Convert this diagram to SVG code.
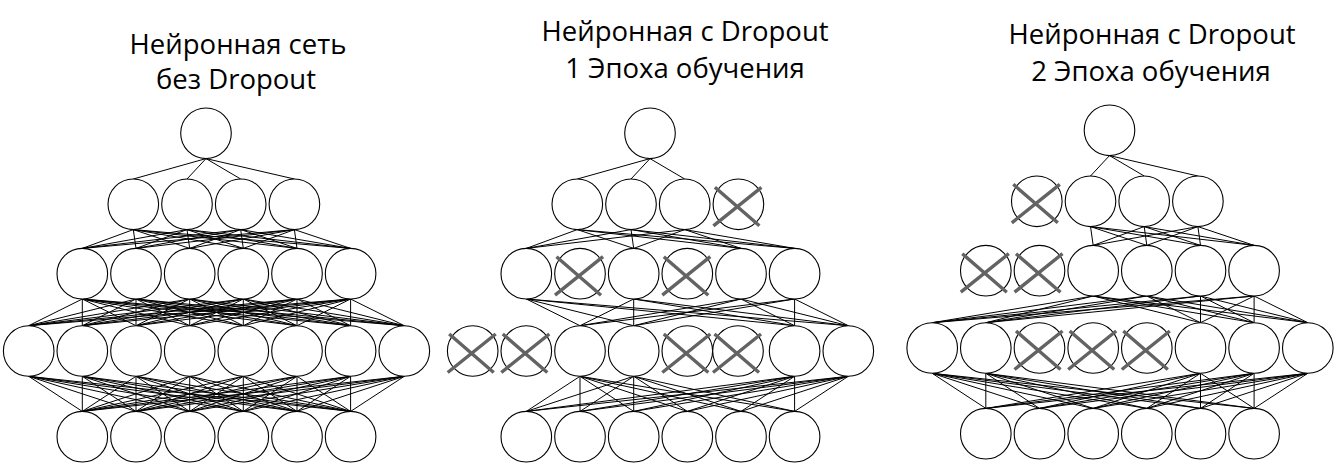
<svg xmlns="http://www.w3.org/2000/svg" xmlns:xlink="http://www.w3.org/1999/xlink" width="1337" height="464" viewBox="0 0 1337 464">
<style>
.node{fill:#fff;stroke:#000;stroke-width:1.1}
.edge{fill:none;stroke:#000;stroke-width:1}
.title{font-family:"Open Sans","Noto Sans",sans-serif;font-size:27.5px;fill:#000;text-anchor:middle}
</style>
<defs>
<path id="xmark" d="M-23.5 -17L21 21.5M23 -17L-25 21.5" fill="none" stroke="#636363" stroke-width="3.4"/>
</defs>
<rect width="1337" height="464" fill="#fff"/>
<g id="titles">
<text class="title" x="238" y="54">Нейронная сеть</text>
<text class="title" x="236" y="89">без Dropout</text>
<text class="title" x="685" y="41">Нейронная с Dropout</text>
<text class="title" x="685" y="78">1 Эпоха обучения</text>
<text class="title" x="1152" y="44">Нейронная с Dropout</text>
<text class="title" x="1151" y="81">2 Эпоха обучения</text>
</g>
<g id="connectors">
<path class="edge" d="M206 158.6L133.3 179M206 158.6L187 179M206 158.6L240.7 179M206 158.6L294.4 179"/>
<path class="edge" d="M133.3 229.6L82.3 248.4M133.3 229.6L136 248.4M133.3 229.6L189.7 248.4M133.3 229.6L243.3 248.4M133.3 229.6L297 248.4M133.3 229.6L350.6 248.4M187 229.6L82.3 248.4M187 229.6L136 248.4M187 229.6L189.7 248.4M187 229.6L243.3 248.4M187 229.6L297 248.4M187 229.6L350.6 248.4M240.7 229.6L82.3 248.4M240.7 229.6L136 248.4M240.7 229.6L189.7 248.4M240.7 229.6L243.3 248.4M240.7 229.6L297 248.4M240.7 229.6L350.6 248.4M294.4 229.6L82.3 248.4M294.4 229.6L136 248.4M294.4 229.6L189.7 248.4M294.4 229.6L243.3 248.4M294.4 229.6L297 248.4M294.4 229.6L350.6 248.4"/>
<path class="edge" d="M82.3 299L28.7 325.7M82.3 299L82.3 325.7M82.3 299L136 325.7M82.3 299L189.7 325.7M82.3 299L243.3 325.7M82.3 299L297 325.7M82.3 299L350.6 325.7M82.3 299L404.3 325.7M136 299L28.7 325.7M136 299L82.3 325.7M136 299L136 325.7M136 299L189.7 325.7M136 299L243.3 325.7M136 299L297 325.7M136 299L350.6 325.7M136 299L404.3 325.7M189.7 299L28.7 325.7M189.7 299L82.3 325.7M189.7 299L136 325.7M189.7 299L189.7 325.7M189.7 299L243.3 325.7M189.7 299L297 325.7M189.7 299L350.6 325.7M189.7 299L404.3 325.7M243.3 299L28.7 325.7M243.3 299L82.3 325.7M243.3 299L136 325.7M243.3 299L189.7 325.7M243.3 299L243.3 325.7M243.3 299L297 325.7M243.3 299L350.6 325.7M243.3 299L404.3 325.7M297 299L28.7 325.7M297 299L82.3 325.7M297 299L136 325.7M297 299L189.7 325.7M297 299L243.3 325.7M297 299L297 325.7M297 299L350.6 325.7M297 299L404.3 325.7M350.6 299L28.7 325.7M350.6 299L82.3 325.7M350.6 299L136 325.7M350.6 299L189.7 325.7M350.6 299L243.3 325.7M350.6 299L297 325.7M350.6 299L350.6 325.7M350.6 299L404.3 325.7"/>
<path class="edge" d="M28.7 376.3L82.3 411.4M28.7 376.3L136 411.4M28.7 376.3L189.7 411.4M28.7 376.3L243.3 411.4M28.7 376.3L297 411.4M28.7 376.3L350.6 411.4M82.3 376.3L82.3 411.4M82.3 376.3L136 411.4M82.3 376.3L189.7 411.4M82.3 376.3L243.3 411.4M82.3 376.3L297 411.4M82.3 376.3L350.6 411.4M136 376.3L82.3 411.4M136 376.3L136 411.4M136 376.3L189.7 411.4M136 376.3L243.3 411.4M136 376.3L297 411.4M136 376.3L350.6 411.4M189.7 376.3L82.3 411.4M189.7 376.3L136 411.4M189.7 376.3L189.7 411.4M189.7 376.3L243.3 411.4M189.7 376.3L297 411.4M189.7 376.3L350.6 411.4M243.3 376.3L82.3 411.4M243.3 376.3L136 411.4M243.3 376.3L189.7 411.4M243.3 376.3L243.3 411.4M243.3 376.3L297 411.4M243.3 376.3L350.6 411.4M297 376.3L82.3 411.4M297 376.3L136 411.4M297 376.3L189.7 411.4M297 376.3L243.3 411.4M297 376.3L297 411.4M297 376.3L350.6 411.4M350.6 376.3L82.3 411.4M350.6 376.3L136 411.4M350.6 376.3L189.7 411.4M350.6 376.3L243.3 411.4M350.6 376.3L297 411.4M350.6 376.3L350.6 411.4M404.3 376.3L82.3 411.4M404.3 376.3L136 411.4M404.3 376.3L189.7 411.4M404.3 376.3L243.3 411.4M404.3 376.3L297 411.4M404.3 376.3L350.6 411.4"/>
<path class="edge" d="M650 158.6L577.3 179M650 158.6L631 179M650 158.6L684.7 179"/>
<path class="edge" d="M577.3 229.6L526.3 248.4M577.3 229.6L633.7 248.4M577.3 229.6L741 248.4M577.3 229.6L794.6 248.4M631 229.6L526.3 248.4M631 229.6L633.7 248.4M631 229.6L741 248.4M631 229.6L794.6 248.4M684.7 229.6L526.3 248.4M684.7 229.6L633.7 248.4M684.7 229.6L741 248.4M684.7 229.6L794.6 248.4"/>
<path class="edge" d="M526.3 299L580 325.7M526.3 299L633.7 325.7M526.3 299L794.6 325.7M526.3 299L848.3 325.7M633.7 299L580 325.7M633.7 299L633.7 325.7M633.7 299L794.6 325.7M633.7 299L848.3 325.7M741 299L580 325.7M741 299L633.7 325.7M741 299L794.6 325.7M741 299L848.3 325.7M794.6 299L580 325.7M794.6 299L633.7 325.7M794.6 299L794.6 325.7M794.6 299L848.3 325.7"/>
<path class="edge" d="M580 376.3L526.3 411.4M580 376.3L580 411.4M580 376.3L633.7 411.4M580 376.3L687.3 411.4M580 376.3L741 411.4M580 376.3L794.6 411.4M633.7 376.3L526.3 411.4M633.7 376.3L580 411.4M633.7 376.3L633.7 411.4M633.7 376.3L687.3 411.4M633.7 376.3L741 411.4M633.7 376.3L794.6 411.4M794.6 376.3L526.3 411.4M794.6 376.3L580 411.4M794.6 376.3L633.7 411.4M794.6 376.3L687.3 411.4M794.6 376.3L741 411.4M794.6 376.3L794.6 411.4M848.3 376.3L526.3 411.4M848.3 376.3L580 411.4M848.3 376.3L633.7 411.4M848.3 376.3L687.3 411.4M848.3 376.3L741 411.4M848.3 376.3L794.6 411.4"/>
<path class="edge" d="M1109.5 155.6L1090.5 176M1109.5 155.6L1144.2 176M1109.5 155.6L1197.9 176"/>
<path class="edge" d="M1090.5 226.6L1093.2 245.4M1090.5 226.6L1146.8 245.4M1090.5 226.6L1200.5 245.4M1090.5 226.6L1254.1 245.4M1144.2 226.6L1093.2 245.4M1144.2 226.6L1146.8 245.4M1144.2 226.6L1200.5 245.4M1144.2 226.6L1254.1 245.4M1197.9 226.6L1093.2 245.4M1197.9 226.6L1146.8 245.4M1197.9 226.6L1200.5 245.4M1197.9 226.6L1254.1 245.4"/>
<path class="edge" d="M1093.2 296L932.2 322.7M1093.2 296L985.8 322.7M1093.2 296L1200.5 322.7M1093.2 296L1254.1 322.7M1093.2 296L1307.8 322.7M1146.8 296L932.2 322.7M1146.8 296L985.8 322.7M1146.8 296L1200.5 322.7M1146.8 296L1254.1 322.7M1146.8 296L1307.8 322.7M1200.5 296L932.2 322.7M1200.5 296L985.8 322.7M1200.5 296L1200.5 322.7M1200.5 296L1254.1 322.7M1200.5 296L1307.8 322.7M1254.1 296L932.2 322.7M1254.1 296L985.8 322.7M1254.1 296L1200.5 322.7M1254.1 296L1254.1 322.7M1254.1 296L1307.8 322.7"/>
<path class="edge" d="M932.2 373.3L985.8 408.4M932.2 373.3L1039.5 408.4M932.2 373.3L1093.2 408.4M932.2 373.3L1146.8 408.4M932.2 373.3L1200.5 408.4M932.2 373.3L1254.1 408.4M985.8 373.3L985.8 408.4M985.8 373.3L1039.5 408.4M985.8 373.3L1093.2 408.4M985.8 373.3L1146.8 408.4M985.8 373.3L1200.5 408.4M985.8 373.3L1254.1 408.4M1200.5 373.3L985.8 408.4M1200.5 373.3L1039.5 408.4M1200.5 373.3L1093.2 408.4M1200.5 373.3L1146.8 408.4M1200.5 373.3L1200.5 408.4M1200.5 373.3L1254.1 408.4M1254.1 373.3L985.8 408.4M1254.1 373.3L1039.5 408.4M1254.1 373.3L1093.2 408.4M1254.1 373.3L1146.8 408.4M1254.1 373.3L1200.5 408.4M1254.1 373.3L1254.1 408.4M1307.8 373.3L985.8 408.4M1307.8 373.3L1039.5 408.4M1307.8 373.3L1093.2 408.4M1307.8 373.3L1146.8 408.4M1307.8 373.3L1200.5 408.4M1307.8 373.3L1254.1 408.4"/>
</g>
<g id="panel1-nodes">
<g id="p1-a1"><circle class="node" cx="206" cy="133.3" r="25.3"/></g>
<g id="p1-b1"><circle class="node" cx="133.3" cy="204.3" r="25.3"/></g>
<g id="p1-b2"><circle class="node" cx="187" cy="204.3" r="25.3"/></g>
<g id="p1-b3"><circle class="node" cx="240.7" cy="204.3" r="25.3"/></g>
<g id="p1-b4"><circle class="node" cx="294.4" cy="204.3" r="25.3"/></g>
<g id="p1-c1"><circle class="node" cx="82.3" cy="273.7" r="25.3"/></g>
<g id="p1-c2"><circle class="node" cx="136" cy="273.7" r="25.3"/></g>
<g id="p1-c3"><circle class="node" cx="189.7" cy="273.7" r="25.3"/></g>
<g id="p1-c4"><circle class="node" cx="243.3" cy="273.7" r="25.3"/></g>
<g id="p1-c5"><circle class="node" cx="297" cy="273.7" r="25.3"/></g>
<g id="p1-c6"><circle class="node" cx="350.6" cy="273.7" r="25.3"/></g>
<g id="p1-d1"><circle class="node" cx="28.7" cy="351" r="25.3"/></g>
<g id="p1-d2"><circle class="node" cx="82.3" cy="351" r="25.3"/></g>
<g id="p1-d3"><circle class="node" cx="136" cy="351" r="25.3"/></g>
<g id="p1-d4"><circle class="node" cx="189.7" cy="351" r="25.3"/></g>
<g id="p1-d5"><circle class="node" cx="243.3" cy="351" r="25.3"/></g>
<g id="p1-d6"><circle class="node" cx="297" cy="351" r="25.3"/></g>
<g id="p1-d7"><circle class="node" cx="350.6" cy="351" r="25.3"/></g>
<g id="p1-d8"><circle class="node" cx="404.3" cy="351" r="25.3"/></g>
<g id="p1-e1"><circle class="node" cx="82.3" cy="436.7" r="25.3"/></g>
<g id="p1-e2"><circle class="node" cx="136" cy="436.7" r="25.3"/></g>
<g id="p1-e3"><circle class="node" cx="189.7" cy="436.7" r="25.3"/></g>
<g id="p1-e4"><circle class="node" cx="243.3" cy="436.7" r="25.3"/></g>
<g id="p1-e5"><circle class="node" cx="297" cy="436.7" r="25.3"/></g>
<g id="p1-e6"><circle class="node" cx="350.6" cy="436.7" r="25.3"/></g>
</g>
<g id="panel2-nodes">
<g id="p2-a1"><circle class="node" cx="650" cy="133.3" r="25.3"/></g>
<g id="p2-b1"><circle class="node" cx="577.3" cy="204.3" r="25.3"/></g>
<g id="p2-b2"><circle class="node" cx="631" cy="204.3" r="25.3"/></g>
<g id="p2-b3"><circle class="node" cx="684.7" cy="204.3" r="25.3"/></g>
<g id="p2-b4"><circle class="node" cx="738.4" cy="204.3" r="25.3"/><use xlink:href="#xmark" href="#xmark" x="738.4" y="204.3"/></g>
<g id="p2-c1"><circle class="node" cx="526.3" cy="273.7" r="25.3"/></g>
<g id="p2-c2"><circle class="node" cx="580" cy="273.7" r="25.3"/><use xlink:href="#xmark" href="#xmark" x="580" y="273.7"/></g>
<g id="p2-c3"><circle class="node" cx="633.7" cy="273.7" r="25.3"/></g>
<g id="p2-c4"><circle class="node" cx="687.3" cy="273.7" r="25.3"/><use xlink:href="#xmark" href="#xmark" x="687.3" y="273.7"/></g>
<g id="p2-c5"><circle class="node" cx="741" cy="273.7" r="25.3"/></g>
<g id="p2-c6"><circle class="node" cx="794.6" cy="273.7" r="25.3"/></g>
<g id="p2-d1"><circle class="node" cx="472.7" cy="351" r="25.3"/><use xlink:href="#xmark" href="#xmark" x="472.7" y="351"/></g>
<g id="p2-d2"><circle class="node" cx="526.3" cy="351" r="25.3"/><use xlink:href="#xmark" href="#xmark" x="526.3" y="351"/></g>
<g id="p2-d3"><circle class="node" cx="580" cy="351" r="25.3"/></g>
<g id="p2-d4"><circle class="node" cx="633.7" cy="351" r="25.3"/></g>
<g id="p2-d5"><circle class="node" cx="687.3" cy="351" r="25.3"/><use xlink:href="#xmark" href="#xmark" x="687.3" y="351"/></g>
<g id="p2-d6"><circle class="node" cx="738" cy="351" r="25.3"/><use xlink:href="#xmark" href="#xmark" x="738" y="351"/></g>
<g id="p2-d7"><circle class="node" cx="794.6" cy="351" r="25.3"/></g>
<g id="p2-d8"><circle class="node" cx="848.3" cy="351" r="25.3"/></g>
<g id="p2-e1"><circle class="node" cx="526.3" cy="436.7" r="25.3"/></g>
<g id="p2-e2"><circle class="node" cx="580" cy="436.7" r="25.3"/></g>
<g id="p2-e3"><circle class="node" cx="633.7" cy="436.7" r="25.3"/></g>
<g id="p2-e4"><circle class="node" cx="687.3" cy="436.7" r="25.3"/></g>
<g id="p2-e5"><circle class="node" cx="741" cy="436.7" r="25.3"/></g>
<g id="p2-e6"><circle class="node" cx="794.6" cy="436.7" r="25.3"/></g>
</g>
<g id="panel3-nodes">
<g id="p3-a1"><circle class="node" cx="1109.5" cy="130.3" r="25.3"/></g>
<g id="p3-b1"><circle class="node" cx="1036.8" cy="201.3" r="25.3"/><use xlink:href="#xmark" href="#xmark" x="1036.8" y="201.3"/></g>
<g id="p3-b2"><circle class="node" cx="1090.5" cy="201.3" r="25.3"/></g>
<g id="p3-b3"><circle class="node" cx="1144.2" cy="201.3" r="25.3"/></g>
<g id="p3-b4"><circle class="node" cx="1197.9" cy="201.3" r="25.3"/></g>
<g id="p3-c1"><circle class="node" cx="985.8" cy="270.7" r="25.3"/><use xlink:href="#xmark" href="#xmark" x="985.8" y="270.7"/></g>
<g id="p3-c2"><circle class="node" cx="1039.5" cy="270.7" r="25.3"/><use xlink:href="#xmark" href="#xmark" x="1039.5" y="270.7"/></g>
<g id="p3-c3"><circle class="node" cx="1093.2" cy="270.7" r="25.3"/></g>
<g id="p3-c4"><circle class="node" cx="1146.8" cy="270.7" r="25.3"/></g>
<g id="p3-c5"><circle class="node" cx="1200.5" cy="270.7" r="25.3"/></g>
<g id="p3-c6"><circle class="node" cx="1254.1" cy="270.7" r="25.3"/></g>
<g id="p3-d1"><circle class="node" cx="932.2" cy="348" r="25.3"/></g>
<g id="p3-d2"><circle class="node" cx="985.8" cy="348" r="25.3"/></g>
<g id="p3-d3"><circle class="node" cx="1039.5" cy="348" r="25.3"/><use xlink:href="#xmark" href="#xmark" x="1039.5" y="348"/></g>
<g id="p3-d4"><circle class="node" cx="1093.2" cy="348" r="25.3"/><use xlink:href="#xmark" href="#xmark" x="1093.2" y="348"/></g>
<g id="p3-d5"><circle class="node" cx="1146.8" cy="348" r="25.3"/><use xlink:href="#xmark" href="#xmark" x="1146.8" y="348"/></g>
<g id="p3-d6"><circle class="node" cx="1200.5" cy="348" r="25.3"/></g>
<g id="p3-d7"><circle class="node" cx="1254.1" cy="348" r="25.3"/></g>
<g id="p3-d8"><circle class="node" cx="1307.8" cy="348" r="25.3"/></g>
<g id="p3-e1"><circle class="node" cx="985.8" cy="433.7" r="25.3"/></g>
<g id="p3-e2"><circle class="node" cx="1039.5" cy="433.7" r="25.3"/></g>
<g id="p3-e3"><circle class="node" cx="1093.2" cy="433.7" r="25.3"/></g>
<g id="p3-e4"><circle class="node" cx="1146.8" cy="433.7" r="25.3"/></g>
<g id="p3-e5"><circle class="node" cx="1200.5" cy="433.7" r="25.3"/></g>
<g id="p3-e6"><circle class="node" cx="1254.1" cy="433.7" r="25.3"/></g>
</g>
</svg>
